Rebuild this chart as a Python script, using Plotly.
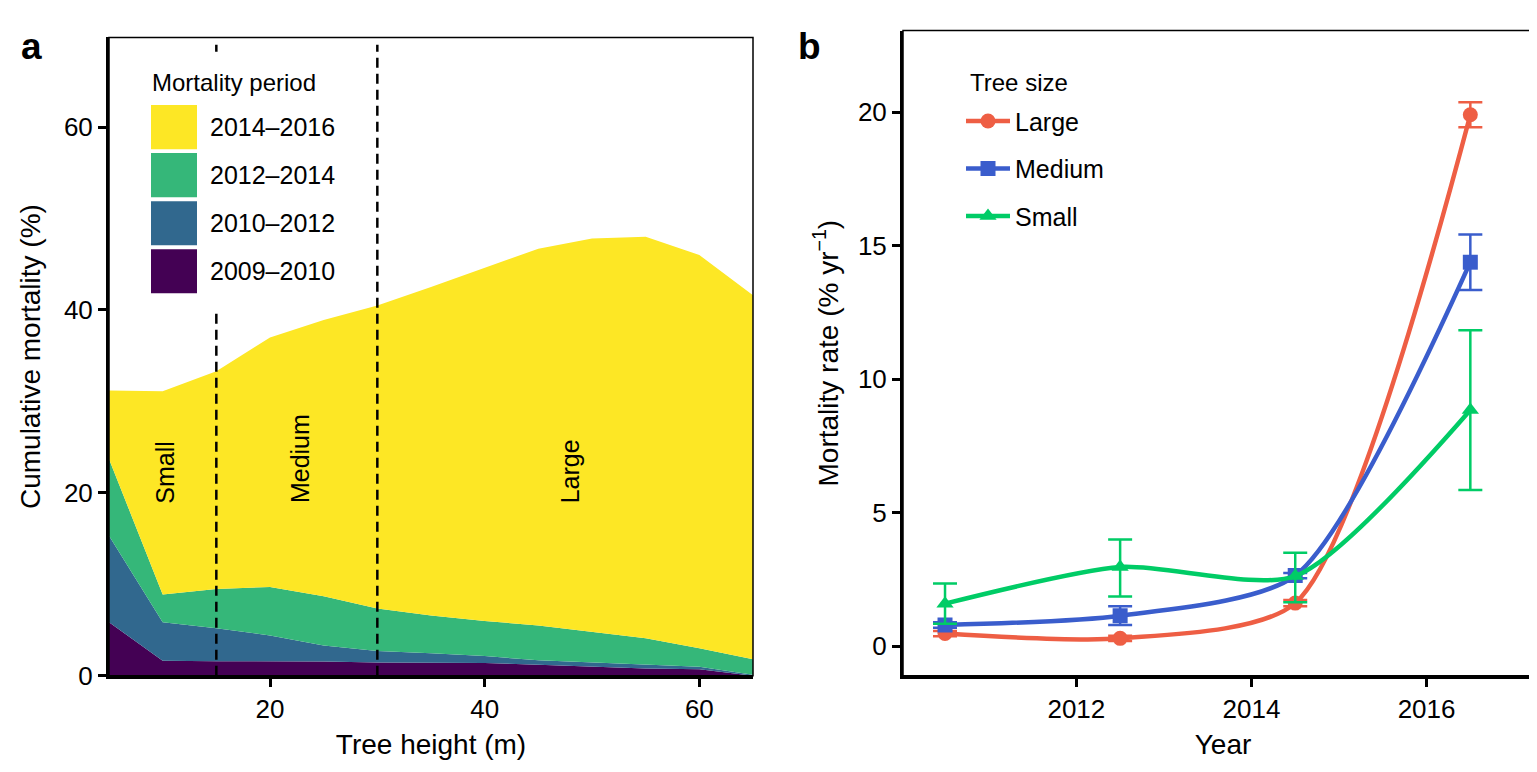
import plotly.graph_objects as go

# a. cumulative mortality (%) by tree height, one increment per period
heights = [5, 10, 15, 20, 25, 30, 35, 40, 45, 50, 55, 60, 65]
periods = ["2009–2010", "2010–2012", "2012–2014", "2014–2016"]
period_colors = ["#440154", "#31688E", "#35B779", "#FDE725"]
mort_0910 = [5.85, 1.65, 1.6, 1.6, 1.55, 1.45, 1.45, 1.4, 1.2, 1.0, 0.8, 0.7, 0.0]
mort_1012 = [9.45, 4.2, 3.6, 2.8, 1.75, 1.25, 1.0, 0.75, 0.5, 0.45, 0.45, 0.3, 0.1]
mort_1214 = [8.4, 3.05, 4.3, 5.3, 5.4, 4.65, 4.15, 3.85, 3.8, 3.35, 2.85, 2.0, 1.7]
mort_1416 = [7.5, 22.2, 23.8, 27.3, 30.2, 33.15, 35.9, 38.6, 41.2, 43.0, 43.9, 43.0, 39.8]
size_breaks = [15, 30]
size_labels = ["Small", "Medium", "Large"]
label_x = [10.2, 22.8, 47.9]
label_y = [22.3, 23.7, 22.4]

# b. annual mortality rate by tree size
years = [2010.5, 2012.5, 2014.5, 2016.5]
tree_sizes = ["Large", "Medium", "Small"]
size_colors = ["#EE5E44", "#3A5DCC", "#00CC66"]
size_symbols = ["circle", "square", "triangle-up"]
rate_large = [0.48, 0.3, 1.62, 19.9]
rate_medium = [0.8, 1.15, 2.65, 14.38]
rate_small = [1.6, 2.97, 2.63, 8.85]
err_up_large = [0.1, 0.1, 0.12, 0.47]
err_dn_large = [0.1, 0.1, 0.12, 0.47]
err_up_medium = [0.1, 0.35, 0.1, 1.04]
err_dn_medium = [0.1, 0.35, 0.1, 1.04]
err_up_small = [0.75, 1.03, 0.87, 2.98]
err_dn_small = [0.75, 1.1, 0.98, 3.0]

W, H = 1537, 772
FONT = "Liberation Sans, Arial, sans-serif"


def fx(p):
    return p / W


def fy(p):
    return 1 - p / H


fig = go.Figure()

# stacked areas
for name, vals, col in zip(periods, [mort_0910, mort_1012, mort_1214, mort_1416], period_colors):
    fig.add_trace(go.Scatter(
        x=heights, y=vals, stackgroup="a", mode="lines",
        line=dict(width=0), fillcolor=col, name=name,
        showlegend=False, hoverinfo="skip", xaxis="x", yaxis="y"))

# rate curves
rates = [rate_large, rate_medium, rate_small]
ups = [err_up_large, err_up_medium, err_up_small]
dns = [err_dn_large, err_dn_medium, err_dn_small]
for name, vals, up, dn, col, sym in zip(tree_sizes, rates, ups, dns, size_colors, size_symbols):
    fig.add_trace(go.Scatter(
        x=years, y=vals, mode="lines+markers", name=name, legendgroup=name,
        line=dict(color=col, width=4.5, shape="spline", smoothing=0.7),
        marker=dict(color=col, symbol=sym, size=15),
        error_y=dict(type="data", array=up, arrayminus=dn, color=col,
                     thickness=2.5, width=12),
        xaxis="x2", yaxis="y2"))

axis_style = dict(showline=True, linewidth=3, linecolor="black", ticks="outside",
                  ticklen=8, tickwidth=2.5, tickcolor="black", showgrid=False,
                  zeroline=False, tickfont=dict(size=26, color="black"))

shapes = []
# thin panel borders
for xr, yr in [("x", "y"), ("x2", "y2")]:
    shapes.append(dict(type="rect", xref=xr + " domain", yref=yr + " domain",
                       x0=0, x1=1, y0=0, y1=1, line=dict(color="black", width=1.5),
                       layer="above"))
# size class breaks
for b in size_breaks:
    shapes.append(dict(type="line", xref="x", yref="y", x0=b, x1=b, y0=0, y1=69,
                       line=dict(color="black", width=2.5, dash="10px,6px"), layer="above"))
# legend box for panel a
shapes.append(dict(type="rect", xref="paper", yref="paper",
                   x0=fx(130), x1=fx(340), y0=fy(310), y1=fy(47),
                   fillcolor="white", line=dict(width=0), layer="above"))
annotations = [dict(xref="paper", yref="paper", x=fx(142), y=fy(76), xanchor="left",
                    yanchor="middle", text="Mortality period", showarrow=False,
                    font=dict(size=24, color="black"))]
for i, (name, col) in enumerate(zip(periods[::-1], period_colors[::-1])):
    top = 99 + 49 * i
    shapes.append(dict(type="rect", xref="paper", yref="paper",
                       x0=fx(143), x1=fx(189), y0=fy(top + 45), y1=fy(top),
                       fillcolor=col, line=dict(width=0), layer="above"))
    annotations.append(dict(xref="paper", yref="paper", x=fx(200), y=fy(top + 22.5),
                            xanchor="left", yanchor="middle", text=name, showarrow=False,
                            font=dict(size=25, color="black")))

# size class labels
for t, lx, ly in zip(size_labels, label_x, label_y):
    annotations.append(dict(xref="x", yref="y", x=lx, y=ly, text=t, textangle=-90,
                            showarrow=False, font=dict(size=25, color="black")))

# legend title for panel b
annotations.append(dict(xref="paper", yref="paper", x=fx(960), y=fy(76), xanchor="left",
                        yanchor="middle", text="Tree size", showarrow=False,
                        font=dict(size=24, color="black")))

# panel letters
annotations.append(dict(xref="paper", yref="paper", x=fx(11), y=fy(16), text="<b>a</b>",
                        showarrow=False, font=dict(size=37, color="black")))
annotations.append(dict(xref="paper", yref="paper", x=fx(801), y=fy(16), text="<b>b</b>",
                        showarrow=False, font=dict(size=37, color="black")))

fig.update_layout(
    width=W, height=H,
    margin=dict(l=0, r=0, t=0, b=0),
    paper_bgcolor="white", plot_bgcolor="white",
    font=dict(family=FONT, color="black"),
    xaxis=dict(domain=[fx(101), fx(745)], range=[5, 65], tickvals=[20, 40, 60],
               anchor="y", title=dict(text="Tree height (m)", font=dict(size=28), standoff=12),
               **axis_style),
    yaxis=dict(domain=[fy(681), fy(30)], range=[0, 69.8], tickvals=[0, 20, 40, 60],
               anchor="x", title=dict(text="Cumulative mortality (%)", font=dict(size=28),
                                      standoff=16),
               **axis_style),
    xaxis2=dict(domain=[fx(895), fx(1535)], range=[2010.02, 2017.33],
                tickvals=[2012, 2014, 2016], anchor="y2",
                title=dict(text="Year", font=dict(size=28), standoff=12), **axis_style),
    yaxis2=dict(domain=[fy(681), fy(23)], range=[-1.1, 23.05], tickvals=[0, 5, 10, 15, 20],
                anchor="x2",
                title=dict(text="Mortality rate (% yr<sup>−1</sup>)", font=dict(size=28),
                           standoff=12),
                **axis_style),
    showlegend=True,
    legend=dict(x=fx(953), y=fy(92), xanchor="left", yanchor="top",
                bgcolor="rgba(0,0,0,0)", font=dict(size=25, color="black"),
                tracegroupgap=12, itemwidth=44),
    shapes=shapes,
    annotations=annotations,
)

fig.write_html("out.html")
